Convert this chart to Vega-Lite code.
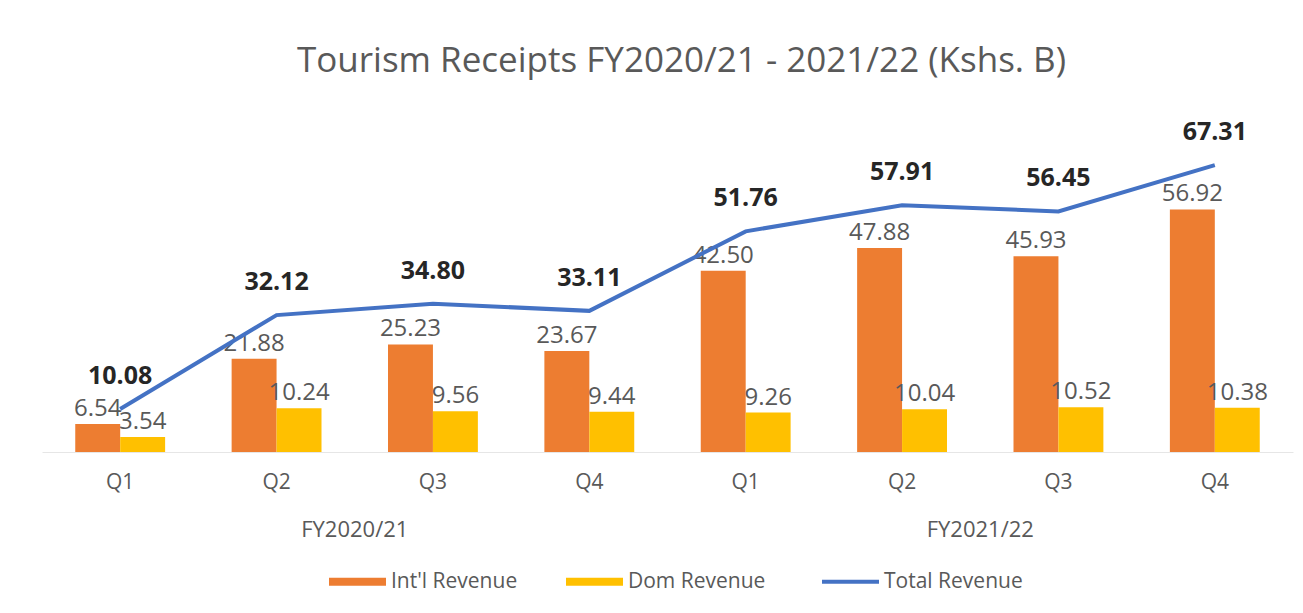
{
  "$schema": "https://vega.github.io/schema/vega-lite/v6.json",
  "width": 1251,
  "height": 341,
  "autosize": {"type": "none"},
  "padding": {"left": 42, "top": 111, "right": 10, "bottom": 161},
  "background": "white",
  "title": {
    "text": "Tourism Receipts FY2020/21 - 2021/22 (Kshs. B)",
    "font": "Open Sans",
    "fontSize": 35,
    "fontWeight": "normal",
    "color": "#595959",
    "anchor": "middle",
    "offset": 32,
    "dx": 14
  },
  "config": {"view": {"stroke": null}, "font": "Open Sans"},
  "datasets": {
    "bars": [
      {"period": "FY2020/21 Q1", "series": "Int'l Revenue", "value": 6.54},
      {"period": "FY2020/21 Q1", "series": "Dom Revenue", "value": 3.54},
      {"period": "FY2020/21 Q2", "series": "Int'l Revenue", "value": 21.88},
      {"period": "FY2020/21 Q2", "series": "Dom Revenue", "value": 10.24},
      {"period": "FY2020/21 Q3", "series": "Int'l Revenue", "value": 25.23},
      {"period": "FY2020/21 Q3", "series": "Dom Revenue", "value": 9.56},
      {"period": "FY2020/21 Q4", "series": "Int'l Revenue", "value": 23.67},
      {"period": "FY2020/21 Q4", "series": "Dom Revenue", "value": 9.44},
      {"period": "FY2021/22 Q1", "series": "Int'l Revenue", "value": 42.50},
      {"period": "FY2021/22 Q1", "series": "Dom Revenue", "value": 9.26},
      {"period": "FY2021/22 Q2", "series": "Int'l Revenue", "value": 47.88},
      {"period": "FY2021/22 Q2", "series": "Dom Revenue", "value": 10.04},
      {"period": "FY2021/22 Q3", "series": "Int'l Revenue", "value": 45.93},
      {"period": "FY2021/22 Q3", "series": "Dom Revenue", "value": 10.52},
      {"period": "FY2021/22 Q4", "series": "Int'l Revenue", "value": 56.92},
      {"period": "FY2021/22 Q4", "series": "Dom Revenue", "value": 10.38}
    ],
    "totals": [
      {"period": "FY2020/21 Q1", "total": 10.08},
      {"period": "FY2020/21 Q2", "total": 32.12},
      {"period": "FY2020/21 Q3", "total": 34.80},
      {"period": "FY2020/21 Q4", "total": 33.11},
      {"period": "FY2021/22 Q1", "total": 51.76},
      {"period": "FY2021/22 Q2", "total": 57.91},
      {"period": "FY2021/22 Q3", "total": 56.45},
      {"period": "FY2021/22 Q4", "total": 67.31}
    ],
    "years": [
      {"period": "FY2020/21 Q2", "label": "FY2020/21"},
      {"period": "FY2021/22 Q2", "label": "FY2021/22"}
    ]
  },
  "encoding": {
    "x": {
      "field": "period",
      "type": "nominal",
      "sort": ["FY2020/21 Q1", "FY2020/21 Q2", "FY2020/21 Q3", "FY2020/21 Q4", "FY2021/22 Q1", "FY2021/22 Q2", "FY2021/22 Q3", "FY2021/22 Q4"],
      "scale": {"paddingInner": 0, "paddingOuter": 0},
      "axis": {
        "title": null,
        "labelExpr": "split(datum.label, ' ')[1]",
        "labelAngle": 0,
        "labelFont": "Open Sans",
        "labelFontSize": 21,
        "labelColor": "#595959",
        "labelPadding": 19,
        "ticks": false,
        "grid": false,
        "domain": true,
        "domainColor": "#e6e6e6",
        "domainWidth": 1
      }
    }
  },
  "layer": [
    {
      "data": {"name": "bars"},
      "mark": {"type": "bar"},
      "encoding": {
        "xOffset": {"field": "series", "type": "nominal", "sort": ["Int'l Revenue", "Dom Revenue"], "scale": {"paddingInner": 0, "paddingOuter": 0.74}},
        "y": {"field": "value", "type": "quantitative", "scale": {"domain": [0, 80]}, "axis": null},
        "color": {
          "field": "series",
          "type": "nominal",
          "scale": {"domain": ["Int'l Revenue", "Dom Revenue", "Total Revenue"], "range": ["#ED7D31", "#FFC000", "#4472C4"]},
          "legend": {
            "orient": "none",
            "legendX": 305,
            "legendY": 460,
            "direction": "horizontal",
            "title": null,
            "labelFont": "Open Sans",
            "labelFontSize": 21,
            "labelColor": "#595959",
            "symbolSize": 3249,
            "columnPadding": 48,
            "labelOffset": 23,
            "encode": {
              "symbols": {
                "update": {
                  "shape": {"signal": "datum.value === 'Total Revenue' ? 'M-1,0H1' : 'M-1,-0.14H1V0.14H-1Z'"},
                  "fill": {"signal": "datum.value === 'Total Revenue' ? 'transparent' : scale('color', datum.value)"},
                  "stroke": {"signal": "scale('color', datum.value)"},
                  "strokeWidth": {"signal": "datum.value === 'Total Revenue' ? 4 : 0"},
                  "opacity": {"value": 1}
                }
              }
            }
          }
        }
      }
    },
    {
      "data": {"name": "bars"},
      "mark": {"type": "text", "baseline": "middle", "dy": -15, "fontSize": 24, "color": "#595959", "font": "Open Sans"},
      "encoding": {
        "xOffset": {"field": "series", "type": "nominal", "sort": ["Int'l Revenue", "Dom Revenue"], "scale": {"paddingInner": 0, "paddingOuter": 0.74}},
        "y": {"field": "value", "type": "quantitative"},
        "text": {"field": "value", "type": "quantitative", "format": ".2f"}
      }
    },
    {
      "data": {"name": "totals"},
      "mark": {"type": "line", "strokeWidth": 4},
      "encoding": {
        "y": {"field": "total", "type": "quantitative"},
        "color": {"datum": "Total Revenue", "type": "nominal"}
      }
    },
    {
      "data": {"name": "totals"},
      "mark": {"type": "text", "baseline": "middle", "dy": -33, "fontSize": 25, "fontWeight": "bold", "color": "#262626", "font": "Open Sans"},
      "encoding": {
        "y": {"field": "total", "type": "quantitative"},
        "text": {"field": "total", "type": "quantitative", "format": ".2f"}
      }
    },
    {
      "data": {"name": "years"},
      "mark": {"type": "text", "baseline": "middle", "fontSize": 22, "color": "#595959", "font": "Open Sans"},
      "encoding": {
        "x": {
          "field": "period",
          "type": "nominal",
          "bandPosition": 1,
          "sort": ["FY2020/21 Q1", "FY2020/21 Q2", "FY2020/21 Q3", "FY2020/21 Q4", "FY2021/22 Q1", "FY2021/22 Q2", "FY2021/22 Q3", "FY2021/22 Q4"]
        },
        "y": {"datum": -18.3, "type": "quantitative"},
        "text": {"field": "label", "type": "nominal"}
      }
    }
  ]
}
